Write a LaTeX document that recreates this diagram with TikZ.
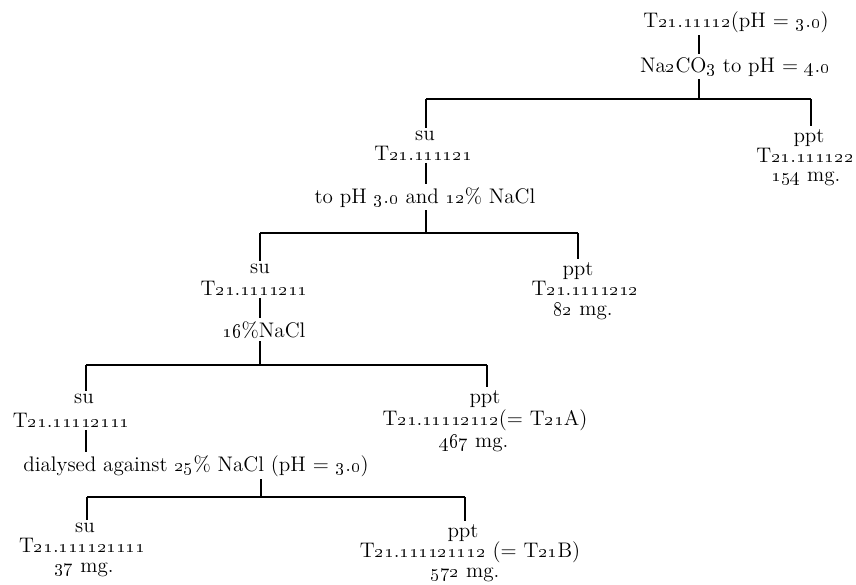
\documentclass[tikz,border=0pt]{standalone}
\usepackage{tikz}
\usetikzlibrary{calc}
\newcommand{\osn}[1]{{\fontsize{11}{12}\selectfont\oldstylenums{#1}}}
\newcommand{\fno}[2]{T\osn{#1}.\osn{#2}}
\tikzset{
  lbl/.style={anchor=base, inner sep=1.5pt, font=\fontsize{12}{14}\selectfont},
  stem/.style={draw=black, line width=1.6pt},
  bar/.style={draw=black, line width=1.3pt}
}
\begin{document}
\begin{tikzpicture}[x=0.02cm,y=-0.02cm]
  \useasboundingbox (0,0) rectangle (856,585);

  % junctions on the four bars
  \coordinate (l1) at (426,99);  \coordinate (j1) at (699,99);  \coordinate (r1) at (811,99);
  \coordinate (l2) at (260,233); \coordinate (j2) at (426,233); \coordinate (r2) at (578,233);
  \coordinate (l3) at (86,365);  \coordinate (j3) at (260,365); \coordinate (r3) at (487,365);
  \coordinate (l4) at (87,497);  \coordinate (j4) at (261,497); \coordinate (r4) at (465,497);

  % step 1
  \node[lbl] (top) at (736,27) {\fno{21}{11112}(pH $=$ \osn{3}.\osn{0})};
  \node[lbl] (cond1) at (735,72) {Na\osn{2}CO\osn{3} to pH $=$ \osn{4}.\osn{0}};
  \node[lbl] (su1) at (425,140) {su};
  \node[lbl] (fr1) at (423,160) {\fno{21}{111121}};
  \node[lbl] (ppt1) at (809,142) {ppt};
  \node[lbl] (fr2) at (805,162) {\fno{21}{111122}};
  \node[lbl] (mg1) at (806,181) {\osn{154} mg.};

  % step 2
  \node[lbl] (cond2) at (425,203) {to pH \osn{3}.\osn{0} and \osn{12}\% NaCl};
  \node[lbl] (su2) at (260,273) {su};
  \node[lbl] (fr3) at (254,295) {\fno{21}{1111211}};
  \node[lbl] (ppt2) at (578,275) {ppt};
  \node[lbl] (fr4) at (585,295) {\fno{21}{1111212}};
  \node[lbl] (mg2) at (583,315) {\osn{82} mg.};

  % step 3
  \node[lbl] (cond3) at (264,337) {\osn{16}\%NaCl};
  \node[lbl] (su3) at (84,403) {su};
  \node[lbl] (fr5) at (71,427) {\fno{21}{11112111}};
  \node[lbl] (ppt3) at (485,403) {ppt};
  \node[lbl] (fr6) at (485,425) {\fno{21}{11112112}($=$ T\osn{21}A)};
  \node[lbl] (mg3) at (474,447) {\osn{467} mg.};

  % step 4
  \node[lbl] (cond4) at (196,471) {dialysed against \osn{25}\% NaCl (pH $=$ \osn{3}.\osn{0})};
  \node[lbl] (su4) at (85,532) {su};
  \node[lbl] (fr7) at (82,552) {\fno{21}{111121111}};
  \node[lbl] (mg4) at (84,572) {\osn{37} mg.};
  \node[lbl] (ppt4) at (463,537) {ppt};
  \node[lbl] (fr8) at (470,557) {\fno{21}{111121112} ($=$ T\osn{21}B)};
  \node[lbl] (mg5) at (465,577) {\osn{572} mg.};

  % stems and bars
  \draw[stem] (top.south -| j1) -- (cond1.north -| j1);
  \draw[stem] (cond1.south -| j1) -- (j1);
  \draw[bar] (l1) -- (r1);
  \draw[stem] (l1) -- (su1.north -| l1);
  \draw[stem] (r1) -- (ppt1.north -| r1);

  \draw[stem] (fr1.south -| l1) -- (cond2.north -| l1);
  \draw[stem] (cond2.south -| j2) -- (j2);
  \draw[bar] (l2) -- (r2);
  \draw[stem] (l2) -- (su2.north -| l2);
  \draw[stem] (r2) -- (ppt2.north -| r2);

  \draw[stem] (fr3.south -| l2) -- (cond3.north -| l2);
  \draw[stem] (cond3.south -| j3) -- (j3);
  \draw[bar] (l3) -- (r3);
  \draw[stem] (l3) -- (su3.north -| l3);
  \draw[stem] (r3) -- (ppt3.north -| r3);

  \draw[stem] (fr5.south -| l3) -- (cond4.north -| l3);
  \draw[stem] (cond4.south -| j4) -- (j4);
  \draw[bar] (l4) -- (r4);
  \draw[stem] (l4) -- (su4.north -| l4);
  \draw[stem] (r4) -- (ppt4.north -| r4);
\end{tikzpicture}
\end{document}
